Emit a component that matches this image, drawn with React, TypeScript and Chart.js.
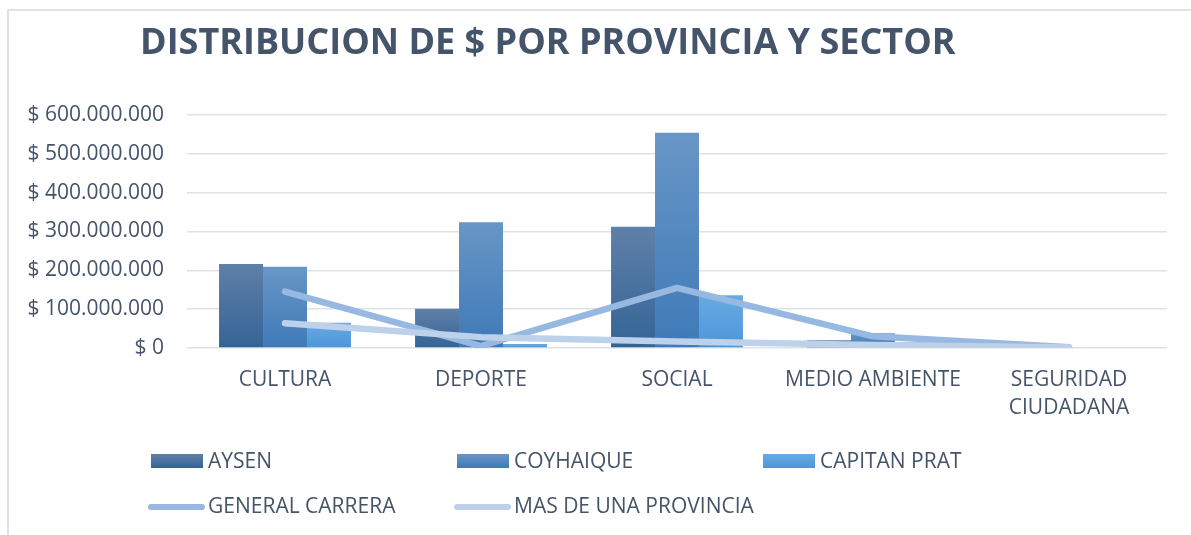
import React, { useEffect, useRef } from "react";
import { Chart, registerables } from "chart.js";

Chart.register(...registerables);

const categories: (string | string[])[] = ["CULTURA", "DEPORTE", "SOCIAL", "MEDIO AMBIENTE", ["SEGURIDAD", "CIUDADANA"]];
const aysen = [216e6, 101e6, 312e6, 20e6, 0];
const coyhaique = [209e6, 324e6, 554e6, 38e6, 0];
const capitanPrat = [65e6, 10e6, 136e6, 15e6, 0];
const generalCarrera = [145e6, 5e6, 155e6, 30e6, 2e6];
const masDeUnaProvincia = [64e6, 28e6, 17e6, 8e6, 1e6];

const seriesNames = ["AYSEN", "COYHAIQUE", "CAPITAN PRAT", "GENERAL CARRERA", "MAS DE UNA PROVINCIA"];
const chartTitle = "DISTRIBUCION DE $ POR PROVINCIA Y SECTOR";
const yMax = 600e6;
const yStep = 100e6;

const TEXT = "#44546a";
const FONT = "'Open Sans', sans-serif";
const FS = 21;
const barColors: [string, string][] = [
  ["#5f80a8", "#346496"],
  ["#6896c6", "#3e7ab8"],
  ["#6aaae2", "#4a96da"],
];
const lineColors = ["#97b8e0", "#bdd1ea"];

function fmt(v: number): string {
  const s = Math.round(v).toString().replace(/\B(?=(\d{3})+(?!\d))/g, ".");
  return "$ " + s;
}

function barGradient(idx: number) {
  return (ctx: any) => {
    const [top, bot] = barColors[idx];
    const chart = ctx.chart;
    const y = chart.scales?.y;
    if (!chart.chartArea || !y || ctx.type !== "data") return bot;
    const v = ctx.raw as number;
    const yTop = y.getPixelForValue(v);
    const yBot = y.getPixelForValue(0);
    if (yBot - yTop < 1) return bot;
    const g = chart.ctx.createLinearGradient(0, yTop, 0, yBot);
    g.addColorStop(0, top);
    g.addColorStop(1, bot);
    return g;
  };
}

const titlePlugin = {
  id: "leftTitle",
  afterDraw(chart: any) {
    const c = chart.ctx;
    c.save();
    c.font = `bold 36px ${FONT}`;
    c.fillStyle = TEXT;
    c.textAlign = "left";
    c.textBaseline = "middle";
    c.fillText(chartTitle, 140, 43.6);
    c.restore();
  },
};

export default function App() {
  const ref = useRef<HTMLCanvasElement>(null);
  useEffect(() => {
    if (!ref.current) return;
    const chart = new Chart(ref.current, {
      type: "bar",
      data: {
        labels: categories as any,
        datasets: [
          { type: "bar", label: seriesNames[0], data: aysen, backgroundColor: barGradient(0) as any, order: 2 },
          { type: "bar", label: seriesNames[1], data: coyhaique, backgroundColor: barGradient(1) as any, order: 2 },
          { type: "bar", label: seriesNames[2], data: capitanPrat, backgroundColor: barGradient(2) as any, order: 2 },
          {
            type: "line", label: seriesNames[3], data: generalCarrera, borderColor: lineColors[0], borderWidth: 6.5,
            pointRadius: 0, tension: 0, borderCapStyle: "round", borderJoinStyle: "round", order: 1, fill: false,
          },
          {
            type: "line", label: seriesNames[4], data: masDeUnaProvincia, borderColor: lineColors[1], borderWidth: 6.5,
            pointRadius: 0, tension: 0, borderCapStyle: "round", borderJoinStyle: "round", order: 0, fill: false,
          },
        ] as any,
      },
      options: {
        responsive: false,
        animation: false,
        devicePixelRatio: 1,
        layout: { padding: { left: 0, right: 24, top: 115, bottom: 0 } },
        datasets: { bar: { categoryPercentage: 0.673, barPercentage: 1 } },
        plugins: {
          legend: { display: false },
          tooltip: { enabled: false },
          title: { display: false },
        },
        scales: {
          x: {
            grid: { display: false },
            border: { display: false },
            ticks: { color: TEXT, font: { family: FONT, size: FS, lineHeight: 28 / FS }, padding: 10, maxRotation: 0, autoSkip: false },
            afterFit: (s: any) => { s.height = 187; },
          },
          y: {
            min: 0,
            max: yMax,
            grid: { color: "#dde1e8", lineWidth: 1.6, drawTicks: false },
            border: { display: false },
            ticks: { stepSize: yStep, color: TEXT, font: { family: FONT, size: FS }, padding: 23, callback: (v: any) => fmt(Number(v)) },
            afterFit: (s: any) => { s.width = 187; },
          },
        },
      } as any,
      plugins: [titlePlugin],
    });
    return () => chart.destroy();
  }, []);

  const legendText: React.CSSProperties = {
    position: "absolute", fontFamily: FONT, fontSize: FS, lineHeight: FS + "px", color: TEXT, whiteSpace: "nowrap",
  };
  const cols = [151, 457, 763];
  return (
    <div style={{ position: "absolute", left: 0, top: 0, width: 1191, height: 535, overflow: "hidden", background: "#fff" }}>
      <div style={{ position: "absolute", left: 7, top: 9, width: 1200, height: 540, borderLeft: "2px solid #dfe3e9", borderTop: "2px solid #dfe3e9" }} />
      <canvas ref={ref} width={1191} height={535} style={{ position: "absolute", left: 0, top: 0, width: 1191, height: 535 }} />
      {[0, 1, 2].map((i) => (
        <React.Fragment key={i}>
          <div style={{ position: "absolute", left: cols[i], top: 454, width: 52, height: 14, background: `linear-gradient(${barColors[i][0]}, ${barColors[i][1]})` }} />
          <span style={{ ...legendText, left: cols[i] + 57, top: 461 - 11.15 }}>{seriesNames[i]}</span>
        </React.Fragment>
      ))}
      {[0, 1].map((i) => (
        <React.Fragment key={"l" + i}>
          <div style={{ position: "absolute", left: cols[i] - 3, top: 503.5, width: 57, height: 6.5, borderRadius: 3.25, background: lineColors[i] }} />
          <span style={{ ...legendText, left: cols[i] + 57, top: 506.5 - 11.15 }}>{seriesNames[3 + i]}</span>
        </React.Fragment>
      ))}
    </div>
  );
}
